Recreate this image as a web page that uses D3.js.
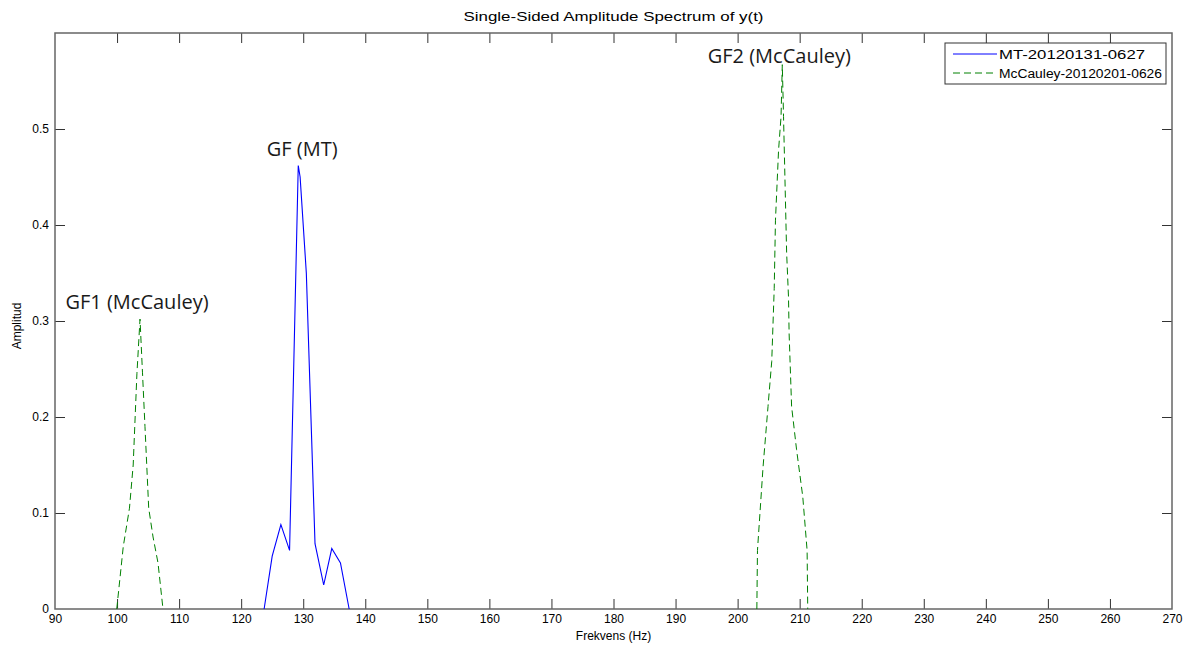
<!DOCTYPE html>
<html>
<head>
<meta charset="utf-8">
<script src="https://cdn.jsdelivr.net/npm/d3@7"></script>
<style>
  html, body { margin: 0; padding: 0; background: #fff; }
  svg { display: block; }
  .mat { font-family: "Liberation Sans", Arial, sans-serif; font-size: 12px; fill: #000; }
  .ann { font-family: "Open Sans", "Noto Sans", sans-serif; font-size: 20px; fill: #1a1a1a; }
</style>
</head>
<body>
<svg id="chart" width="1184" height="646"></svg>
<script>
// ---- data ----
const chartTitle = "Single-Sided Amplitude Spectrum of y(t)";
const xLabel = "Frekvens (Hz)";
const yLabel = "Amplitud";
const xTicks = [90,100,110,120,130,140,150,160,170,180,190,200,210,220,230,240,250,260,270];
const yTicks = [0,0.1,0.2,0.3,0.4,0.5];
const seriesNames = ["MT-20120131-0627", "McCauley-20120201-0626"];

// MT (blue, solid)
const mtFreq = [123.7,125.0,126.4,127.8,129.2,129.5,130.5,131.9,133.3,134.6,136.0,137.4];
const mtAmp  = [0,    0.055,0.088,0.061,0.462,0.45, 0.35, 0.068,0.025,0.063,0.048,0];

// McCauley (green, dashed) — null separates the two peaks
const mcFreq = [99.95,101.0,102.0,102.6,103.2,103.7,104.1,104.5,105.1,105.8,106.6,107.4, null,
                203.1,203.2,204.1,204.9,205.5,205.9,206.1,206.6,207.0,207.2,207.4,207.9,208.2,208.3,208.7,209.5,210.5,211.2,211.3];
const mcAmp  = [0,    0.065,0.105,0.15, 0.245,0.302,0.246,0.19, 0.105,0.075,0.048,0, null,
                0,    0.061,0.148,0.211,0.258,0.334,0.405,0.478,0.513,0.567,0.513,0.371,0.325,0.287,0.211,0.166,0.117,0.061,0];

const annotations = [
  {text: "GF1 (McCauley)", f: 103.7, a: 0.302},
  {text: "GF (MT)",        f: 129.2, a: 0.462},
  {text: "GF2 (McCauley)", f: 207.2, a: 0.567}
];

// ---- layout ----
const L = 55, R = 1172, T = 33, B = 609;
const svg = d3.select("#chart");
const x = d3.scaleLinear().domain([90, 270]).range([L, R]);
const y = d3.scaleLinear().domain([0, 0.6]).range([B, T]);

const axisColor = "#333";

// axes (inward ticks, mirrored)
const gx = svg.append("g").attr("transform", `translate(0,${B})`)
  .call(d3.axisBottom(x).tickValues(xTicks).tickFormat(d3.format("d")).tickSize(-10).tickSizeOuter(0).tickPadding(5));
const gxt = svg.append("g").attr("transform", `translate(0,${T})`)
  .call(d3.axisTop(x).tickValues(xTicks).tickFormat("").tickSize(-10).tickSizeOuter(0));
const gy = svg.append("g").attr("transform", `translate(${L},0)`)
  .call(d3.axisLeft(y).tickValues(yTicks).tickFormat(d => d === 0 ? "0" : d3.format(".1f")(d)).tickSize(-10).tickSizeOuter(0).tickPadding(6));
const gyr = svg.append("g").attr("transform", `translate(${R},0)`)
  .call(d3.axisRight(y).tickValues(yTicks).tickFormat("").tickSize(-10).tickSizeOuter(0));

[gx, gxt, gy, gyr].forEach(g => {
  g.select(".domain").remove();
  g.selectAll(".tick line").attr("stroke", axisColor).attr("stroke-width", 1);
  g.selectAll(".tick text").attr("class", "mat").attr("font-size", null).attr("font-family", null);
});
gx.selectAll(".tick").filter(d => d === 90 || d === 270).select("line").remove();
gxt.selectAll(".tick").filter(d => d === 90 || d === 270).select("line").remove();
gy.selectAll(".tick").filter(d => d === 0).select("line").remove();
gyr.selectAll(".tick").filter(d => d === 0).select("line").remove();

// plot box
svg.append("rect").attr("x", L).attr("y", T).attr("width", R - L).attr("height", B - T)
  .attr("fill", "none").attr("stroke", "#666").attr("stroke-width", 1.5);

// lines
const mtData = mtFreq.map((f, i) => ({f, a: mtAmp[i]}));
const mcData = mcFreq.map((f, i) => ({f, a: mcAmp[i]}));
const line = d3.line().defined(d => d.f !== null && d.a !== null).x(d => x(d.f)).y(d => y(d.a));

svg.append("path").datum(mtData).attr("d", line)
  .attr("fill", "none").attr("stroke", "#0000ff").attr("stroke-width", 1.1);
svg.append("path").datum(mcData).attr("d", line)
  .attr("fill", "none").attr("stroke", "#008000").attr("stroke-width", 1).attr("stroke-dasharray", "7,4");

// titles
svg.append("text").attr("class", "mat").attr("x", (L + R) / 2).attr("y", 21)
  .attr("text-anchor", "middle")
  .attr("textLength", 300).attr("lengthAdjust", "spacingAndGlyphs")
  .text(chartTitle);
svg.append("text").attr("class", "mat").attr("x", (L + R) / 2).attr("y", 640)
  .attr("text-anchor", "middle").text(xLabel);
svg.append("text").attr("class", "mat")
  .attr("transform", `translate(21,${(T + B) / 2 + 5}) rotate(-90)`)
  .attr("text-anchor", "middle").text(yLabel);

// annotations
const annOffsets = [ {dx: -3, dy: -10}, {dx: 4, dy: -9}, {dx: -3, dy: -2} ];
annotations.forEach((d, i) => {
  svg.append("text").attr("class", "ann")
    .attr("x", x(d.f) + annOffsets[i].dx)
    .attr("y", y(d.a) + annOffsets[i].dy)
    .attr("text-anchor", "middle").text(d.text);
});

// legend
const lg = svg.append("g");
lg.append("rect").attr("x", 945).attr("y", 43).attr("width", 221).attr("height", 41)
  .attr("fill", "#fff").attr("stroke", "#333").attr("stroke-width", 1);
const legendItems = [
  {name: seriesNames[0], color: "#0000ff", dash: null, yy: 54, w: 146},
  {name: seriesNames[1], color: "#008000", dash: "7,4", yy: 73, w: 163}
];
legendItems.forEach(it => {
  lg.append("line").attr("x1", 953).attr("x2", 997).attr("y1", it.yy).attr("y2", it.yy)
    .attr("stroke", it.color).attr("stroke-width", 1).attr("stroke-dasharray", it.dash);
  lg.append("text").attr("class", "mat").attr("x", 999).attr("y", it.yy + 4.5)
    .attr("textLength", it.w).attr("lengthAdjust", "spacingAndGlyphs").text(it.name);
});
</script>
</body>
</html>
